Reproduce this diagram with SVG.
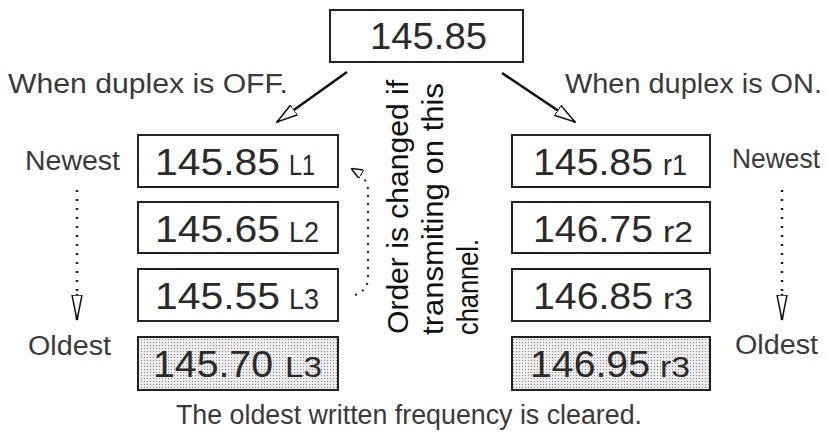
<svg xmlns="http://www.w3.org/2000/svg" width="829" height="432" viewBox="0 0 829 432">
<style>
.box{fill:#fff;stroke:#222;stroke-width:2}
.shade{fill:url(#dots);stroke:#222;stroke-width:2}
.num{font-family:"Liberation Sans",Arial,sans-serif;font-size:37px;fill:#2a2a2a}
.suf{font-family:"Liberation Sans",Arial,sans-serif;font-size:30px;fill:#2a2a2a}
.lbl{font-family:"Liberation Sans",Arial,sans-serif;font-size:27px;fill:#3a3a3a}
.vt{font-family:"Liberation Sans",Arial,sans-serif;font-size:29px;fill:#111}
.arr{fill:none;stroke:#111;stroke-width:2.5}
.dot{fill:none;stroke:#222;stroke-width:2.5;stroke-dasharray:2 7}
.dot2{fill:none;stroke:#222;stroke-width:2;stroke-dasharray:2 6}
</style>
<defs>
<pattern id="dots" width="3" height="3" patternUnits="userSpaceOnUse">
<rect width="3" height="3" fill="#ececec"/>
<rect width="1" height="1" fill="#8a8a8a"/>
</pattern>
<marker id="open" viewBox="0 0 12 10" refX="11" refY="5" markerWidth="12" markerHeight="10" markerUnits="userSpaceOnUse" orient="auto">
<path d="M0,0 L12,5 L0,10 Z" fill="#fff" stroke="#111" stroke-width="1.5"/>
</marker>
<marker id="big" viewBox="0 0 22 14" refX="21" refY="7" markerWidth="22" markerHeight="14" markerUnits="userSpaceOnUse" orient="auto">
<path d="M0,1 L21,7 L0,13 Z" fill="#fff" stroke="#111" stroke-width="1.5"/>
</marker>
<marker id="narrow" viewBox="0 0 26 12" refX="25" refY="6" markerWidth="26" markerHeight="12" markerUnits="userSpaceOnUse" orient="auto">
<path d="M0,1 L25,6 L0,11 Z" fill="#fff" stroke="#111" stroke-width="1.5"/>
</marker>
</defs>

<g id="top">
<rect class="box" x="330" y="10" width="193" height="52"/>
<text class="num" x="370" y="49" textLength="117" lengthAdjust="spacingAndGlyphs">145.85</text>
</g>

<g id="label-off"><text class="lbl" x="8" y="93" font-size="28" textLength="280" lengthAdjust="spacingAndGlyphs">When duplex is OFF.</text></g>
<g id="label-on"><text class="lbl" x="565" y="93" font-size="28" textLength="257" lengthAdjust="spacingAndGlyphs">When duplex is ON.</text></g>

<g id="L1"><rect class="box" x="138" y="135" width="200" height="52"/>
<text class="num" x="155" y="175" textLength="125" lengthAdjust="spacingAndGlyphs">145.85</text>
<text class="suf" x="289" y="175" textLength="26" lengthAdjust="spacingAndGlyphs">L1</text></g>
<g id="L2"><rect class="box" x="138" y="202" width="200" height="51"/>
<text class="num" x="155" y="242" textLength="125" lengthAdjust="spacingAndGlyphs">145.65</text>
<text class="suf" x="289" y="242" textLength="30" lengthAdjust="spacingAndGlyphs">L2</text></g>
<g id="L3"><rect class="box" x="138" y="269" width="200" height="52"/>
<text class="num" x="155" y="309" textLength="125" lengthAdjust="spacingAndGlyphs">145.55</text>
<text class="suf" x="289" y="309" textLength="30" lengthAdjust="spacingAndGlyphs">L3</text></g>
<g id="L4"><rect class="shade" x="138" y="337" width="200" height="53"/>
<text class="num" x="153" y="377" textLength="120" lengthAdjust="spacingAndGlyphs">145.70</text>
<text class="suf" x="285" y="377" textLength="37" lengthAdjust="spacingAndGlyphs">L3</text></g>

<g id="R1"><rect class="box" x="512" y="135" width="198" height="52"/>
<text class="num" x="533" y="175" textLength="120" lengthAdjust="spacingAndGlyphs">145.85</text>
<text class="suf" x="663" y="175" textLength="24" lengthAdjust="spacingAndGlyphs">r1</text></g>
<g id="R2"><rect class="box" x="512" y="202" width="198" height="51"/>
<text class="num" x="533" y="242" textLength="120" lengthAdjust="spacingAndGlyphs">146.75</text>
<text class="suf" x="663" y="242" textLength="30" lengthAdjust="spacingAndGlyphs">r2</text></g>
<g id="R3"><rect class="box" x="512" y="269" width="198" height="52"/>
<text class="num" x="533" y="309" textLength="120" lengthAdjust="spacingAndGlyphs">146.85</text>
<text class="suf" x="663" y="309" textLength="30" lengthAdjust="spacingAndGlyphs">r3</text></g>
<g id="R4"><rect class="shade" x="512" y="337" width="198" height="53"/>
<text class="num" x="530" y="377" textLength="120" lengthAdjust="spacingAndGlyphs">146.95</text>
<text class="suf" x="660" y="377" textLength="30" lengthAdjust="spacingAndGlyphs">r3</text></g>

<g id="newest-left"><text class="lbl" x="25" y="170" textLength="95" lengthAdjust="spacingAndGlyphs">Newest</text></g>
<g id="oldest-left"><text class="lbl" x="28" y="355" textLength="83" lengthAdjust="spacingAndGlyphs">Oldest</text></g>
<g id="newest-right"><text class="lbl" x="732" y="168" textLength="88" lengthAdjust="spacingAndGlyphs">Newest</text></g>
<g id="oldest-right"><text class="lbl" x="735" y="354" textLength="83" lengthAdjust="spacingAndGlyphs">Oldest</text></g>

<g id="order-note">
<text class="vt" transform="translate(408,334) rotate(-90)" textLength="254" lengthAdjust="spacingAndGlyphs">Order is changed if</text>
<text class="vt" transform="translate(443,335) rotate(-90)" textLength="252" lengthAdjust="spacingAndGlyphs">transmiting on this</text>
<text class="vt" transform="translate(478,335) rotate(-90)" textLength="96" lengthAdjust="spacingAndGlyphs">channel.</text>
</g>

<g id="footer"><text class="lbl" x="176" y="424" textLength="466" lengthAdjust="spacingAndGlyphs">The oldest written frequency is cleared.</text></g>

<g id="connectors">
<line class="arr" x1="347" y1="72" x2="277" y2="122" marker-end="url(#big)"/>
<line class="arr" x1="502" y1="73" x2="575" y2="122" marker-end="url(#big)"/>
<line class="dot" x1="77" y1="190" x2="77" y2="296"/>
<line class="arr" x1="77" y1="294" x2="77" y2="320" stroke-width="0" marker-end="url(#narrow)"/>
<line class="dot" x1="782" y1="190" x2="782" y2="296"/>
<line class="arr" x1="782" y1="294" x2="782" y2="320" stroke-width="0" marker-end="url(#narrow)"/>
<path class="dot2" d="M355,295 Q368,290 368,278 L368,190 Q368,178 352,169" marker-end="url(#open)"/>
</g>
</svg>
